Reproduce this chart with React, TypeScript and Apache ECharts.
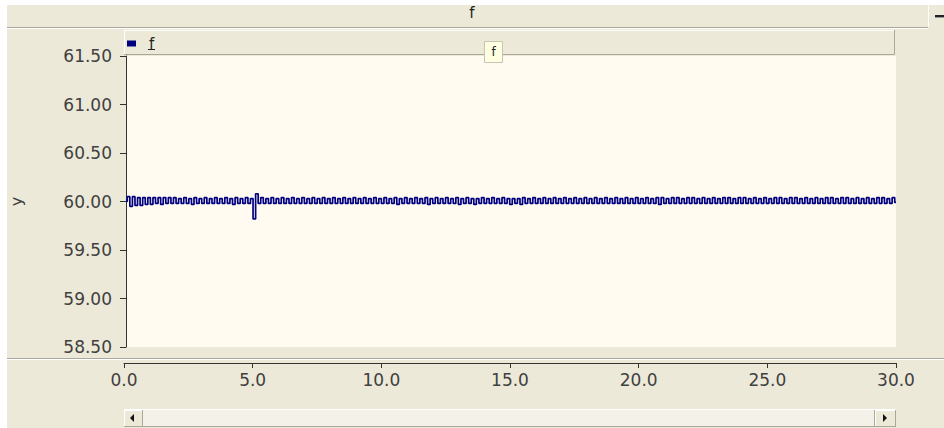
import React, { useEffect, useRef } from "react";
import * as echarts from "echarts";

const seriesName = "f";
const yTicks = [58.5, 59.0, 59.5, 60.0, 60.5, 61.0, 61.5];
const xTicks = [0, 5, 10, 15, 20, 25, 30];
const sampleStep = 0.1;

// f values, t = 0.0 .. 9.9 s
const f0to10 = [
  60.00, 60.05, 59.95, 60.05, 59.96, 60.04, 59.96, 60.04, 59.97, 60.04,
  59.97, 60.04, 59.98, 60.04, 59.97, 60.04, 59.98, 60.04, 59.98, 60.04,
  59.98, 60.03, 59.98, 60.04, 59.98, 60.03, 59.97, 60.04, 59.98, 60.03,
  59.98, 60.04, 59.98, 60.03, 59.98, 60.04, 59.98, 60.03, 59.98, 60.04,
  59.98, 60.03, 59.97, 60.04, 59.98, 60.03, 59.98, 60.04, 59.98, 60.03,
  59.82, 60.08, 59.98, 60.04, 59.98, 60.03, 59.98, 60.04, 59.98, 60.03,
  59.98, 60.04, 59.98, 60.03, 59.98, 60.04, 59.98, 60.03, 59.98, 60.04,
  59.98, 60.03, 59.98, 60.04, 59.98, 60.03, 59.98, 60.04, 59.98, 60.03,
  59.98, 60.04, 59.98, 60.03, 59.98, 60.04, 59.98, 60.03, 59.98, 60.04,
  59.98, 60.03, 59.98, 60.04, 59.98, 60.03, 59.98, 60.04, 59.98, 60.03,
];
// t = 10.0 .. 19.9 s
const f10to20 = [
  59.98, 60.04, 59.98, 60.03, 59.98, 60.04, 59.97, 60.03, 59.98, 60.04,
  59.98, 60.03, 59.98, 60.04, 59.98, 60.03, 59.98, 60.04, 59.97, 60.03,
  59.98, 60.04, 59.98, 60.03, 59.98, 60.04, 59.98, 60.03, 59.98, 60.04,
  59.97, 60.03, 59.98, 60.04, 59.98, 60.03, 59.97, 60.03, 59.98, 60.04,
  59.98, 60.03, 59.98, 60.04, 59.98, 60.03, 59.98, 60.04, 59.98, 60.03,
  59.97, 60.03, 59.98, 60.03, 59.97, 60.04, 59.98, 60.03, 59.98, 60.04,
  59.98, 60.03, 59.98, 60.04, 59.98, 60.03, 59.98, 60.04, 59.98, 60.03,
  59.98, 60.04, 59.98, 60.03, 59.98, 60.04, 59.98, 60.03, 59.98, 60.04,
  59.98, 60.03, 59.98, 60.04, 59.98, 60.03, 59.98, 60.04, 59.98, 60.03,
  59.98, 60.04, 59.98, 60.03, 59.98, 60.04, 59.98, 60.03, 59.98, 60.04,
];
// t = 20.0 .. 30.0 s
const f20to30 = [
  59.98, 60.03, 59.98, 60.04, 59.98, 60.03, 59.98, 60.04, 59.97, 60.04,
  59.98, 60.03, 59.98, 60.04, 59.98, 60.04, 59.98, 60.03, 59.98, 60.04,
  59.98, 60.04, 59.98, 60.03, 59.98, 60.04, 59.98, 60.03, 59.98, 60.04,
  59.98, 60.03, 59.98, 60.04, 59.98, 60.04, 59.98, 60.03, 59.98, 60.04,
  59.98, 60.04, 59.98, 60.03, 59.98, 60.04, 59.98, 60.03, 59.98, 60.04,
  59.98, 60.03, 59.98, 60.04, 59.98, 60.04, 59.98, 60.03, 59.98, 60.04,
  59.98, 60.04, 59.98, 60.03, 59.98, 60.04, 59.98, 60.03, 59.98, 60.04,
  59.98, 60.03, 59.98, 60.04, 59.98, 60.04, 59.98, 60.03, 59.98, 60.04,
  59.98, 60.04, 59.98, 60.03, 59.98, 60.04, 59.98, 60.03, 59.98, 60.04,
  59.98, 60.03, 59.98, 60.04, 59.98, 60.04, 59.98, 60.03, 59.98, 60.04,
  59.99,
];

const fValues = [...f0to10, ...f10to20, ...f20to30];

const BEIGE = "#ECE9D8";
const CREAM = "#FFFBF0";
const GRAY = "#ACA899";
const FONT = "DejaVu Sans";

export default function App() {
  const ref = useRef<HTMLDivElement>(null);
  useEffect(() => {
    if (!ref.current) return;
    const chart = echarts.init(ref.current, undefined, { renderer: "svg" });
    const data = fValues.map((v, i) => [Number((i * sampleStep).toFixed(1)), v]);
    chart.setOption({
      animation: false,
      backgroundColor: BEIGE,
      grid: [
        { left: 124, right: 48, top: 56, height: 291, show: true, backgroundColor: CREAM, borderWidth: 0 },
        { left: 124, right: 48, top: 362, height: 1, show: false },
      ],
      legend: {
        data: [seriesName],
        left: 127,
        top: 36,
        padding: 0,
        icon: "rect",
        itemWidth: 9,
        itemHeight: 6,
        itemGap: 6,
        textStyle: { fontFamily: FONT, fontSize: 15, color: "#222", padding: [0, 0, 0, 8] },
        selectedMode: false,
      },
      xAxis: [
        { type: "value", gridIndex: 0, min: 0, max: 30, interval: 5, show: false },
        {
          type: "value",
          gridIndex: 1,
          min: xTicks[0],
          max: xTicks[xTicks.length - 1],
          interval: 5,
          position: "bottom",
          axisLine: { show: true, lineStyle: { color: "#333", width: 1 } },
          axisTick: { show: true, length: 5, lineStyle: { color: "#333" } },
          splitLine: { show: false },
          axisLabel: {
            margin: 8,
            fontFamily: FONT,
            fontSize: 17,
            color: "#404040",
            formatter: (v: number) => v.toFixed(1),
          },
        },
      ],
      yAxis: [
        {
          type: "value",
          gridIndex: 0,
          min: yTicks[0],
          max: yTicks[yTicks.length - 1],
          interval: 0.5,
          name: "y",
          nameLocation: "middle",
          nameGap: 102,
          nameRotate: 90,
          nameTextStyle: { fontFamily: FONT, fontSize: 16, color: "#404040" },
          axisLine: { show: true, lineStyle: { color: "#333", width: 1 } },
          axisTick: { show: true, length: 6, lineStyle: { color: "#333" } },
          splitLine: { show: false },
          axisLabel: {
            margin: 14,
            fontFamily: FONT,
            fontSize: 17,
            color: "#404040",
            formatter: (v: number) => v.toFixed(2),
          },
        },
        { type: "value", gridIndex: 1, show: false, min: 0, max: 1 },
      ],
      series: [
        {
          name: seriesName,
          type: "line",
          xAxisIndex: 0,
          yAxisIndex: 0,
          data,
          step: "middle",
          showSymbol: false,
          symbol: "none",
          lineStyle: { color: "#000080", width: 1.7 },
          itemStyle: { color: "#000080" },
        },
      ],
      graphic: [
        // white outer strips
        { type: "rect", shape: { x: 0, y: 0, width: 944, height: 5 }, style: { fill: "#fff" }, z: 100 },
        { type: "rect", shape: { x: 0, y: 0, width: 7, height: 428 }, style: { fill: "#fff" }, z: 100 },
        // title bar
        { type: "line", shape: { x1: 7, y1: 27.5, x2: 928, y2: 27.5 }, style: { stroke: GRAY, lineWidth: 1 }, z: 100 },
        { type: "line", shape: { x1: 7, y1: 28.5, x2: 928, y2: 28.5 }, style: { stroke: "#fff", lineWidth: 1 }, z: 100 },
        {
          type: "text",
          x: 472,
          y: 13,
          style: { text: "f", fontFamily: FONT, fontSize: 15, fill: "#222", align: "center", verticalAlign: "middle" },
          z: 100,
        },
        { type: "line", shape: { x1: 928.5, y1: 5, x2: 928.5, y2: 27 }, style: { stroke: "#fff", lineWidth: 1 }, z: 100 },
        { type: "rect", shape: { x: 935, y: 15, width: 9, height: 2 }, style: { fill: "#222" }, z: 100 },
        { type: "rect", shape: { x: 935, y: 17, width: 9, height: 1 }, style: { fill: "#999" }, z: 100 },
        // legend bar
        { type: "rect", shape: { x: 124, y: 30, width: 771, height: 25 }, style: { fill: BEIGE }, z: 1 },
        { type: "polyline", shape: { points: [[124.5, 55], [124.5, 30.5], [895, 30.5]] }, style: { stroke: "#fff", fill: "none", lineWidth: 1 }, z: 2 },
        { type: "polyline", shape: { points: [[124, 54.5], [894.5, 54.5], [894.5, 30]] }, style: { stroke: GRAY, fill: "none", lineWidth: 1 }, z: 2 },
        { type: "line", shape: { x1: 148, y1: 49.5, x2: 155, y2: 49.5 }, style: { stroke: "#222", lineWidth: 1 }, z: 100 },
        // tooltip-like box
        { type: "rect", shape: { x: 484.5, y: 41.5, width: 18, height: 21 }, style: { fill: "#FFFFE1", stroke: "#C8C4B0", lineWidth: 1 }, z: 100 },
        {
          type: "text",
          x: 493.5,
          y: 52,
          style: { text: "f", fontFamily: FONT, fontSize: 12, fill: "#222", align: "center", verticalAlign: "middle" },
          z: 101,
        },
        // separator
        { type: "line", shape: { x1: 7, y1: 358.5, x2: 944, y2: 358.5 }, style: { stroke: GRAY, lineWidth: 1 }, z: 100 },
        { type: "line", shape: { x1: 7, y1: 359.5, x2: 944, y2: 359.5 }, style: { stroke: "#fff", lineWidth: 1 }, z: 100 },
        // scrollbar
        { type: "rect", shape: { x: 124, y: 409, width: 772, height: 18 }, style: { fill: "#F3F1E8" }, z: 100 },
        { type: "line", shape: { x1: 124, y1: 409.5, x2: 896, y2: 409.5 }, style: { stroke: "#fff", lineWidth: 1 }, z: 101 },
        { type: "line", shape: { x1: 124, y1: 426.5, x2: 896, y2: 426.5 }, style: { stroke: GRAY, lineWidth: 1 }, z: 101 },
        { type: "rect", shape: { x: 124, y: 410, width: 19, height: 16 }, style: { fill: BEIGE }, z: 102 },
        { type: "polyline", shape: { points: [[124.5, 426], [124.5, 410.5], [143, 410.5]] }, style: { stroke: "#fff", fill: "none", lineWidth: 1 }, z: 103 },
        { type: "line", shape: { x1: 142.5, y1: 410, x2: 142.5, y2: 426 }, style: { stroke: GRAY, lineWidth: 1 }, z: 103 },
        { type: "polygon", shape: { points: [[130, 418], [134, 414], [134, 422]] }, style: { fill: "#111" }, z: 104 },
        { type: "rect", shape: { x: 875, y: 410, width: 21, height: 16 }, style: { fill: BEIGE }, z: 102 },
        { type: "polyline", shape: { points: [[875.5, 426], [875.5, 410.5], [896, 410.5]] }, style: { stroke: "#fff", fill: "none", lineWidth: 1 }, z: 103 },
        { type: "line", shape: { x1: 874.5, y1: 410, x2: 874.5, y2: 426 }, style: { stroke: GRAY, lineWidth: 1 }, z: 103 },
        { type: "line", shape: { x1: 895.5, y1: 410, x2: 895.5, y2: 427 }, style: { stroke: GRAY, lineWidth: 1 }, z: 103 },
        { type: "polygon", shape: { points: [[887, 418], [883, 414], [883, 422]] }, style: { fill: "#111" }, z: 104 },
      ],
    });
    return () => chart.dispose();
  }, []);
  return <div ref={ref} style={{ position: "fixed", left: 0, top: 0, width: 944, height: 428 }} />;
}
